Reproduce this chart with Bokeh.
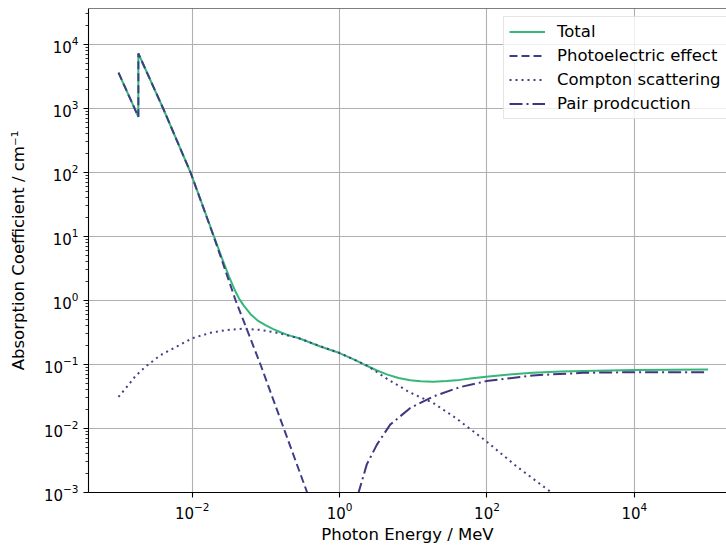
from bokeh.plotting import figure
from bokeh.models import (FixedTicker, LogTickFormatter, Span, Legend, LegendItem, Range1d)
from bokeh.embed import file_html
from bokeh.resources import INLINE

# ---- data (energy in MeV, absorption coefficient in 1/cm) ----
total_energy = [1.0e-3, 1.86e-3, 1.86e-3, 4.04e-3, 9.5e-3, 1.96e-2, 2.51e-2, 3.16e-2, 3.55e-2,
                3.89e-2, 4.37e-2, 5.01e-2, 6.31e-2, 7.94e-2, 0.1, 0.126, 0.158, 0.2, 0.282,
                0.547, 1.0, 1.58, 2.34, 3.16, 4.37, 6.31, 9.1, 12.6, 18.6, 28.2, 42.7, 63.1,
                98, 200, 417, 1000, 2000, 1e4, 1e5]
total_mu = [3630, 741, 7240, 1000, 100, 10.2, 4.73, 2.37, 1.72,
            1.36, 1.05, 0.832, 0.598, 0.475, 0.409, 0.358, 0.319, 0.288, 0.257,
            0.191, 0.151, 0.119, 0.0955, 0.0813, 0.070, 0.0617, 0.0569, 0.0547, 0.054,
            0.0553, 0.0575, 0.0609, 0.0646, 0.070, 0.0741, 0.0776, 0.0794, 0.0822, 0.0832]

photo_energy = [1.0e-3, 1.86e-3, 1.86e-3, 4.04e-3, 9.5e-3, 1.96e-2, 3.89e-2, 8.45e-2, 0.175,
                0.363, 0.8]
photo_mu = [3630, 741, 7240, 1000, 100, 10, 1.0, 0.1, 0.01, 1e-3, 8.5e-5]

compton_energy = [1e-3, 1.32e-3, 1.7e-3, 2.34e-3, 3.72e-3, 6.3e-3, 1e-2, 1.78e-2, 2.99e-2,
                  5.0e-2, 8.4e-2, 0.141, 0.28, 0.547, 1.0, 2.34, 4.37, 9.1, 18.6, 38, 98,
                  251, 708, 1000]
compton_mu = [0.0312, 0.0457, 0.066, 0.093, 0.140, 0.193, 0.257, 0.313, 0.347,
              0.363, 0.347, 0.313, 0.257, 0.193, 0.151, 0.097, 0.060, 0.0363, 0.0251,
              0.0145, 6.3e-3, 2.57e-3, 1.05e-3, 7.6e-4]

pair_energy = [1.5, 1.81, 2.34, 3.21, 4.86, 9.1, 18.6, 42.7, 98, 417, 2000, 1e4, 1e5]
pair_mu = [4e-4, 1e-3, 2.75e-3, 5.6e-3, 0.0115, 0.0209, 0.0316, 0.0442, 0.055, 0.0676,
           0.0741, 0.0759, 0.0759]

series_labels = ["Total", "Photoelectric effect", "Compton scattering", "Pair prodcuction"]

x_major_ticks = [1e-2, 1e0, 1e2, 1e4]
y_major_ticks = [1e-3, 1e-2, 1e-1, 1e0, 1e1, 1e2, 1e3, 1e4]
y_minor_ticks = [k * d for d in y_major_ticks for k in range(2, 10)]

FONT = "DejaVu Sans"
Y_TOP = 10 ** 4.5625

p = figure(width=726, height=548, x_axis_type="log", y_axis_type="log",
           x_range=Range1d(10 ** -3.407, 10 ** 5.25),
           y_range=Range1d(1e-3, Y_TOP),
           output_backend="svg", toolbar_location=None,
           min_border_left=88, min_border_right=0, min_border_top=8, min_border_bottom=56)

p.outline_line_color = None
p.background_fill_color = "white"
p.border_fill_color = "white"

# top spine
p.add_layout(Span(location=Y_TOP, dimension="width", line_color="black", line_width=1.2))

p.xaxis.ticker = FixedTicker(ticks=x_major_ticks, minor_ticks=[])
p.yaxis.ticker = FixedTicker(ticks=y_major_ticks, minor_ticks=y_minor_ticks)
p.xaxis.formatter = LogTickFormatter()
p.yaxis.formatter = LogTickFormatter()

for ax in (p.xaxis[0], p.yaxis[0]):
    ax.axis_line_color = "black"
    ax.axis_line_width = 1.1
    ax.major_tick_in = 0
    ax.major_tick_out = 5
    ax.minor_tick_in = 0
    ax.minor_tick_out = 3
    ax.major_tick_line_color = "black"
    ax.minor_tick_line_color = "black"
    ax.major_tick_line_width = 1.1
    ax.minor_tick_line_width = 0.8
    ax.major_label_text_font = FONT
    ax.major_label_text_font_size = "15px"
    ax.major_label_text_color = "black"
    ax.axis_label_text_font = FONT
    ax.axis_label_text_font_size = "16.5px"
    ax.axis_label_text_font_style = "normal"
    ax.axis_label_text_color = "black"

p.xaxis.major_label_standoff = 4
p.yaxis.major_label_standoff = 5
p.xaxis.axis_label = "Photon Energy / MeV"
p.yaxis.axis_label = "Absorption Coefficient / cm\u207b\u00b9"
p.xaxis.axis_label_standoff = 3
p.yaxis.axis_label_standoff = 13

p.xgrid.grid_line_color = "#b0b0b0"
p.ygrid.grid_line_color = "#b0b0b0"
p.xgrid.grid_line_width = 1.1
p.ygrid.grid_line_width = 1.1

r_total = p.line(total_energy, total_mu, line_color="#35b779", line_width=2)
r_photo = p.line(photo_energy, photo_mu, line_color="#3e3d87", line_width=2, line_dash="8 4")
r_compton = p.line(compton_energy, compton_mu, line_color="#433e8b", line_width=2, line_dash="2 4")
r_pair = p.line(pair_energy, pair_mu, line_color="#45337f", line_width=2, line_dash="13 4 2 4")

legend = Legend(items=[LegendItem(label=series_labels[0], renderers=[r_total]),
                       LegendItem(label=series_labels[1], renderers=[r_photo]),
                       LegendItem(label=series_labels[2], renderers=[r_compton]),
                       LegendItem(label=series_labels[3], renderers=[r_pair])],
                location=(415, 373))
legend.margin = 0
legend.padding = 5
legend.spacing = 5
legend.glyph_width = 36
legend.glyph_height = 17
legend.label_height = 17
legend.label_standoff = 12
legend.label_text_font = FONT
legend.label_text_font_size = "16.5px"
legend.label_text_color = "black"
legend.border_line_color = "#cccccc"
legend.border_line_width = 1
legend.background_fill_color = "white"
legend.background_fill_alpha = 0.8
p.add_layout(legend)

open("out.html", "w").write(file_html(p, INLINE))
